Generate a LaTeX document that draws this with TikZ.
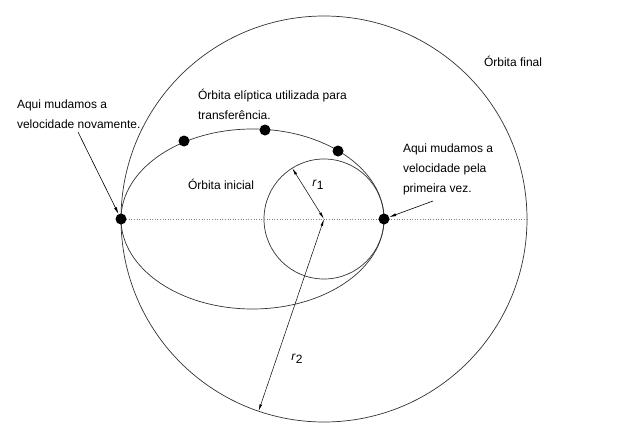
\documentclass[tikz,border=0pt]{standalone}
\usepackage{fontspec}
\setmainfont{Liberation Sans}
\usepackage{tikz}
\usetikzlibrary{arrows.meta,positioning,calc}

\begin{document}
\begin{tikzpicture}[x=1pt,y=-1pt,every node/.style={outer sep=0pt,inner sep=0pt,
  font=\fontsize{12}{20}\selectfont}]
\tikzstyle{orbit}=[line width=0.7pt,draw=black!80]
\tikzstyle{dot}=[circle,fill=black,minimum size=11pt]
\tikzstyle{raio}=[line width=0.5pt,{Latex[length=7pt,width=2.6pt]}-{Latex[length=7pt,width=2.6pt]}]
\tikzstyle{pointer}=[line width=0.6pt,-{Latex[length=7pt,width=3pt]}]
\tikzstyle{caption}=[anchor=base west,align=left]
\useasboundingbox (0,0) rectangle (632,447);

\coordinate (O) at (324,219);
% orbitas
\draw [orbit] (O) circle [radius=203];
\draw [orbit] (O) circle [radius=60];
\draw [orbit] (252.5,219) ellipse [x radius=131.5, y radius=90];
\draw [dotted,line width=0.6pt,black!50] (121,219) -- (527,219);

% raios
\draw [raio] (O) -- ($(O)+(-122:60)$) coordinate (R1);
\draw [raio] (O) -- ($(O)+(108.8:203)$) coordinate (R2);
\node (r1) at (318,185) {\textit{r}\raisebox{-.55ex}{1}};
\node (r2) at (297,359) {\textit{r}\raisebox{-.55ex}{2}};

% pontos na elipse
\node (pA) [dot] at (121,219) {};
\node (pB) [dot] at (384,219) {};
\node (p1) [dot] at (184,141) {};
\node (p2) [dot] at (265,130) {};
\node (p3) [dot] at (338,151) {};

% textos (base = ultima linha)
\node (final) [caption] at (484,66) {Órbita final};
\node (elip) [caption] at (198,119) {Órbita elíptica utilizada para\\transferência.};
\node (ini) [caption] at (188,189) {Órbita inicial};
\node (nova) [caption] at (17,128) {Aqui mudamos a\\velocidade novamente.};
\node (prim) [caption] at (403,192) {Aqui mudamos a\\velocidade pela\\primeira vez.};

\coordinate (tA) at (78,132);
\coordinate (tB) at (433,201);
\draw [pointer] (tA) -- (pA);
\draw [pointer] (tB) -- (pB);
\end{tikzpicture}
\end{document}
